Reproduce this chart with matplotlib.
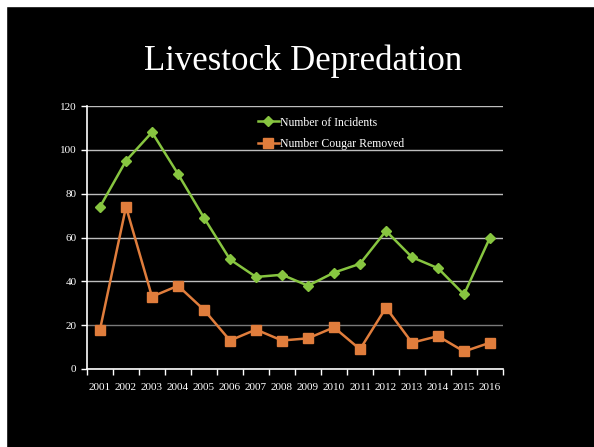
import matplotlib

matplotlib.use("Agg")
import matplotlib.pyplot as plt  # noqa: E402
from matplotlib.patches import Rectangle  # noqa: E402

_BG = "#000000"
_FG = "#ffffff"
_GREEN = "#87c540"
_ORANGE = "#e07d3c"
_GRID = "#bdbdbd"

years = ["2001", "2002", "2003", "2004", "2005", "2006", "2007", "2008",
         "2009", "2010", "2011", "2012", "2013", "2014", "2015", "2016"]
incidents = [74, 95, 108, 89, 69, 50, 42, 43, 38, 44, 48, 63, 51, 46, 34, 60]
cougar_removed = [18, 74, 33, 38, 27, 13, 18, 13, 14, 19, 9, 28, 12, 15, 8, 12]

plt.rcParams["font.family"] = ["Liberation Serif", "DejaVu Serif"]

fig = plt.figure(figsize=(5.94, 4.47), dpi=100)
fig.patch.set_facecolor(_BG)
# white slide margin on the left and top
fig.add_artist(Rectangle((0, 0), 6 / 594, 1, transform=fig.transFigure,
                         color="white", zorder=10))
fig.add_artist(Rectangle((0, 1 - 6 / 447), 1, 6 / 447, transform=fig.transFigure,
                         color="white", zorder=10))

ax = fig.add_axes([87 / 594, 1 - 369 / 447, 416 / 594, 263 / 447])
ax.set_facecolor(_BG)

x = list(range(len(years)))
ax.plot(x, incidents, color=_GREEN, marker="D", markersize=5, linewidth=1.8,
        label="Number of Incidents", zorder=3)
ax.plot(x, cougar_removed, color=_ORANGE, marker="s", markersize=7, linewidth=1.8,
        label="Number Cougar Removed", zorder=3)

ax.set_xlim(-0.5, len(years) - 0.5)
ax.set_ylim(0, 120)
ax.set_yticks(range(0, 121, 20))
ax.tick_params(axis="y", colors=_FG, labelsize=8, length=4, width=1, direction="out")

# category axis: ticks at boundaries, labels centred
ax.set_xticks([i - 0.5 for i in range(len(years) + 1)])
ax.set_xticklabels([])
ax.set_xticks(x, minor=True)
ax.set_xticklabels(years, minor=True, fontsize=8, color=_FG)
ax.tick_params(axis="x", which="major", colors=_FG, length=4, width=1)
ax.tick_params(axis="x", which="minor", length=0, pad=10)

ax.grid(True, axis="y", color=_GRID, linewidth=1)
ax.get_ygridlines()[1].set_color("#7a7a7a")
ax.set_axisbelow(True)

for side in ("top", "right"):
    ax.spines[side].set_visible(False)
for side in ("left", "bottom"):
    ax.spines[side].set_color(_FG)
    ax.spines[side].set_linewidth(1.2)
    ax.spines[side].set_zorder(4)

ax.legend(loc="upper left", bbox_to_anchor=(0.385, 1.0), frameon=False,
          labelcolor=_FG, fontsize=8.5, handlelength=1.8, handletextpad=0.1,
          labelspacing=0.8)

fig.text(0.51, 0.862, "Livestock Depredation", ha="center", va="center",
         color=_FG, fontsize=25)

fig.savefig("out.png", facecolor=fig.get_facecolor())
